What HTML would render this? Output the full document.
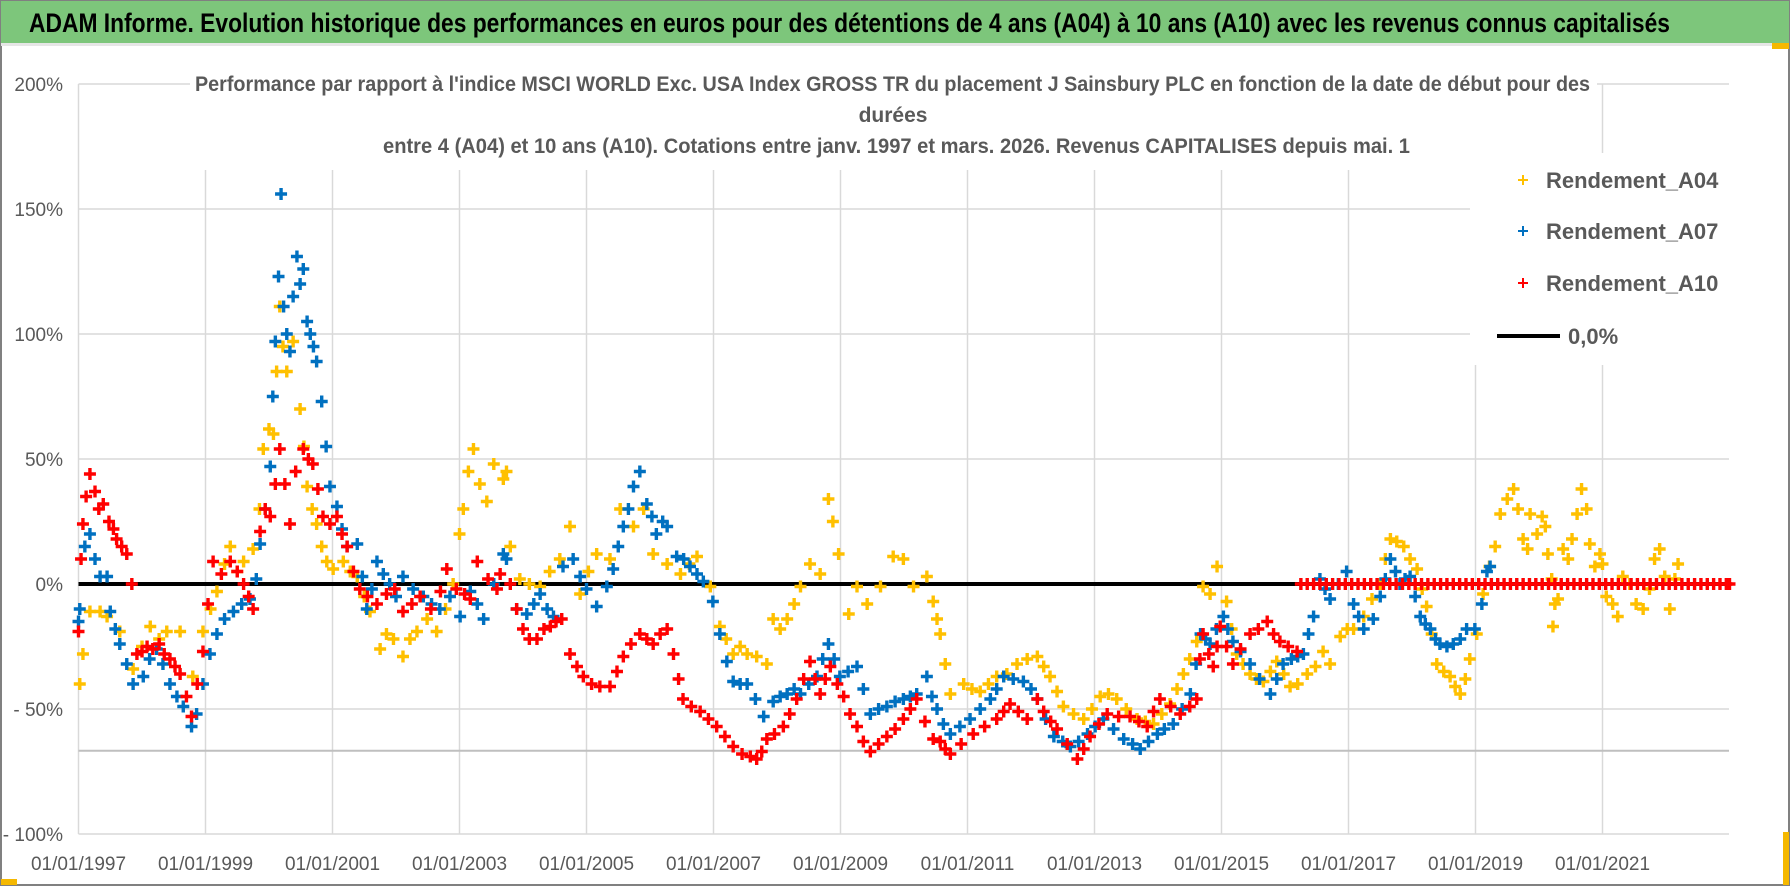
<!DOCTYPE html>
<html><head><meta charset="utf-8">
<style>
html,body{margin:0;padding:0;background:#fff;}
svg{display:block;font-family:"Liberation Sans",sans-serif;}
</style></head>
<body>
<svg id="chart" width="1790" height="886" viewBox="0 0 1790 886" xmlns="http://www.w3.org/2000/svg">
  <rect x="1" y="1" width="1788" height="884" fill="#fff" stroke="#808080" stroke-width="2"/>
  <rect x="1" y="1" width="1788" height="42" fill="#7dc67b"/>
  <rect x="1" y="43" width="1788" height="3" fill="#e6e6e6"/>
  <text x="29" y="32" font-size="27" font-weight="bold" fill="#000" textLength="1641" lengthAdjust="spacingAndGlyphs">ADAM Informe. Evolution historique des performances en euros pour des détentions de 4 ans (A04) à 10 ans (A10) avec les revenus connus capitalisés</text>
  <rect x="1" y="879" width="16" height="6" fill="#f5b800"/>
  <rect x="1783" y="832" width="6" height="53" fill="#f5b800"/>
  <rect x="1772" y="43" width="17" height="6" fill="#f5b800"/>
  <g id="grid"></g>
  <g id="axes"></g>
  <line x1="78.5" y1="584" x2="1729" y2="584" stroke="#000" stroke-width="4"/>
  <g id="marks"></g>
  <rect x="190" y="68" width="1407" height="102" fill="#fff"/>
  <g fill="#595959" font-weight="bold" font-size="21">
    <text x="195" y="91" textLength="1395" lengthAdjust="spacingAndGlyphs">Performance par rapport à l'indice MSCI WORLD Exc. USA Index GROSS TR  du placement J Sainsbury PLC en fonction de la date de début pour des</text>
    <text x="893" y="122" text-anchor="middle">durées</text>
    <text x="383" y="153" textLength="1027" lengthAdjust="spacingAndGlyphs">entre 4 (A04) et 10 ans (A10). Cotations entre janv. 1997 et mars. 2026. Revenus CAPITALISES depuis mai. 1</text>
  </g>
  <g>
    <rect x="1470" y="153" width="275" height="212" fill="#fff"/>
    <g>
      <path d="M1518 180h10M1523 175v10" stroke="#ffc000" stroke-width="2"/>
      <text x="1546" y="188" font-size="22" font-weight="bold" fill="#595959">Rendement_A04</text>
    </g>
    <g>
      <path d="M1518 231h10M1523 226v10" stroke="#0070c0" stroke-width="2"/>
      <text x="1546" y="239" font-size="22" font-weight="bold" fill="#595959">Rendement_A07</text>
    </g>
    <g>
      <path d="M1518 283h10M1523 278v10" stroke="#ff0000" stroke-width="2"/>
      <text x="1546" y="291" font-size="22" font-weight="bold" fill="#595959">Rendement_A10</text>
    </g>
    <g>
      <line x1="1497" y1="336" x2="1560" y2="336" stroke="#000" stroke-width="4"/>
      <text x="1568" y="344" font-size="22" font-weight="bold" fill="#595959">0,0%</text>
    </g>
  </g>
</svg>
<script>
const yTickValues = [200, 150, 100, 50, 0, -50, -100];
const yTickLabels = ["200%", "150%", "100%", "50%", "0%", "- 50%", "- 100%"];
const xTickYears = [1997, 1999, 2001, 2003, 2005, 2007, 2009, 2011, 2013, 2015, 2017, 2019, 2021];
const xTickLabels = ["01/01/1997","01/01/1999","01/01/2001","01/01/2003","01/01/2005","01/01/2007","01/01/2009","01/01/2011","01/01/2013","01/01/2015","01/01/2017","01/01/2019","01/01/2021"];

const a04Dates = [1997.02,1997.07,1997.18,1997.34,1997.45,1997.65,1997.86,1998.0,1998.13,1998.27,1998.39,1998.6,1998.8,1998.96,1999.08,1999.18,1999.3,1999.39,1999.5,1999.6,1999.75,1999.85,1999.91,2000.0,2000.07,2000.12,2000.17,2000.22,2000.28,2000.38,2000.49,2000.55,2000.6,2000.68,2000.75,2000.83,2000.91,2001.01,2001.17,2001.28,2001.39,2001.5,2001.59,2001.75,2001.85,2001.96,2002.11,2002.22,2002.33,2002.49,2002.64,2002.78,2002.9,2003.0,2003.06,2003.14,2003.22,2003.32,2003.43,2003.54,2003.69,2003.74,2003.8,2003.95,2004.1,2004.27,2004.42,2004.58,2004.74,2004.9,2005.03,2005.16,2005.37,2005.53,2005.74,2005.9,2006.05,2006.27,2006.48,2006.62,2006.74,2006.95,2007.1,2007.2,2007.31,2007.42,2007.53,2007.68,2007.84,2007.94,2008.05,2008.16,2008.27,2008.37,2008.52,2008.68,2008.81,2008.88,2008.97,2009.13,2009.26,2009.42,2009.63,2009.83,2009.99,2010.15,2010.36,2010.46,2010.52,2010.57,2010.65,2010.73,2010.94,2011.07,2011.2,2011.33,2011.46,2011.62,2011.78,2011.94,2012.1,2012.2,2012.3,2012.41,2012.51,2012.67,2012.83,2012.96,2013.09,2013.22,2013.35,2013.5,2013.67,2013.8,2013.93,2014.06,2014.19,2014.3,2014.4,2014.5,2014.61,2014.71,2014.82,2014.93,2015.08,2015.16,2015.24,2015.34,2015.45,2015.55,2015.66,2015.77,2015.87,2015.98,2016.08,2016.2,2016.35,2016.48,2016.6,2016.71,2016.87,2016.98,2017.08,2017.24,2017.37,2017.5,2017.58,2017.66,2017.76,2017.87,2017.97,2018.08,2018.16,2018.23,2018.31,2018.39,2018.5,2018.6,2018.68,2018.76,2018.84,2018.91,2019.02,2019.12,2019.22,2019.31,2019.39,2019.5,2019.6,2019.67,2019.75,2019.82,2019.86,2019.97,2020.05,2020.1,2020.14,2020.2,2020.22,2020.25,2020.3,2020.38,2020.46,2020.52,2020.6,2020.67,2020.75,2020.8,2020.88,2020.96,2021.0,2021.06,2021.16,2021.24,2021.32,2021.43,2021.53,2021.64,2021.74,2021.82,2021.9,2021.98,2022.06,2022.14,2022.19];
const a04Values = [-40,-28,-11,-11,-13,-19,-34,-25,-17,-22,-19,-19,-37,-19,-10,-3,8,15,5,9,14,30,54,62,60,85,111,95,85,97,70,55,39,30,24,15,9,6,9,5,3,-5,-11,-26,-20,-22,-29,-22,-19,-14,-19,-10,0,20,30,45,54,40,33,48,42,45,15,2,0,-1,5,10,23,-4,5,12,10,30,23,30,12,8,4,8,11,-1,-17,-22,-28,-25,-28,-29,-32,-14,-18,-14,-8,-1,8,4,34,25,12,-12,-1,-8,-1,11,10,-1,3,-7,-14,-20,-32,-44,-40,-42,-43,-40,-37,-36,-32,-30,-29,-33,-37,-43,-49,-52,-54,-50,-45,-44,-46,-50,-54,-55,-56,-52,-48,-42,-36,-30,-23,-1,-4,7,-7,-18,-28,-32,-36,-38,-39,-35,-31,-36,-41,-40,-36,-33,-27,-32,-21,-18,-18,-13,-6,0,10,18,17,15,10,6,-2,-9,-20,-32,-35,-37,-41,-44,-38,-30,-20,-4,7,15,28,34,38,30,18,14,28,20,27,23,12,2,-17,-8,-6,14,10,18,28,38,30,16,7,12,8,-5,-8,-13,3,0,-8,-10,-2,10,14,3,-10,2,8];

const a07Dates = [1997.0,1997.02,1997.1,1997.18,1997.26,1997.34,1997.45,1997.5,1997.58,1997.65,1997.76,1997.86,1998.02,1998.12,1998.23,1998.33,1998.44,1998.55,1998.65,1998.78,1998.86,1998.96,1999.07,1999.18,1999.3,1999.44,1999.57,1999.7,1999.8,1999.86,1999.94,2000.02,2000.06,2000.1,2000.15,2000.19,2000.23,2000.28,2000.33,2000.38,2000.44,2000.49,2000.54,2000.6,2000.65,2000.7,2000.75,2000.83,2000.9,2000.96,2001.07,2001.15,2001.23,2001.39,2001.47,2001.54,2001.62,2001.7,2001.8,2001.9,2002.0,2002.11,2002.27,2002.43,2002.56,2002.69,2002.85,2003.01,2003.17,2003.28,2003.38,2003.54,2003.69,2003.74,2003.9,2004.06,2004.17,2004.27,2004.38,2004.48,2004.63,2004.79,2004.9,2005.0,2005.16,2005.32,2005.42,2005.5,2005.58,2005.66,2005.74,2005.84,2005.95,2006.03,2006.1,2006.2,2006.27,2006.42,2006.53,2006.63,2006.74,2006.84,2006.99,2007.1,2007.21,2007.31,2007.42,2007.53,2007.66,2007.79,2007.94,2008.05,2008.16,2008.27,2008.37,2008.5,2008.63,2008.72,2008.81,2008.9,2008.99,2009.12,2009.26,2009.36,2009.47,2009.6,2009.73,2009.86,2009.99,2010.1,2010.2,2010.36,2010.44,2010.52,2010.62,2010.73,2010.88,2011.04,2011.2,2011.36,2011.46,2011.57,2011.72,2011.88,2012.0,2012.1,2012.23,2012.36,2012.5,2012.62,2012.75,2012.89,2013.01,2013.14,2013.3,2013.46,2013.6,2013.72,2013.85,2013.99,2014.1,2014.24,2014.38,2014.51,2014.6,2014.67,2014.75,2014.82,2014.92,2015.03,2015.1,2015.18,2015.3,2015.45,2015.6,2015.77,2015.87,2015.97,2016.1,2016.2,2016.29,2016.37,2016.45,2016.55,2016.63,2016.71,2016.84,2016.97,2017.08,2017.16,2017.24,2017.39,2017.5,2017.58,2017.66,2017.74,2017.81,2017.89,2017.97,2018.05,2018.13,2018.21,2018.29,2018.37,2018.44,2018.55,2018.65,2018.76,2018.86,2018.99,2019.1,2019.18,2019.23];
const a07Values = [-15,-10,15,20,10,3,3,-11,-18,-24,-32,-40,-37,-30,-26,-32,-40,-45,-49,-57,-52,-40,-28,-20,-14,-11,-8,-6,2,16,30,47,75,97,123,156,111,100,93,115,131,120,126,105,100,95,89,73,55,39,31,22,15,16,3,-10,-2,9,4,0,-5,3,-2,-5,-8,-10,-5,-13,-3,-8,-14,0,12,10,-10,-12,-8,-4,-10,-13,7,10,3,-2,-9,-1,6,15,23,30,39,45,32,27,20,25,23,11,10,7,4,1,-7,-20,-31,-39,-40,-40,-46,-53,-47,-45,-44,-42,-44,-40,-37,-30,-24,-30,-37,-35,-33,-42,-52,-50,-49,-47,-46,-45,-44,-37,-45,-50,-56,-60,-57,-54,-50,-46,-42,-37,-38,-39,-42,-46,-54,-61,-63,-65,-63,-60,-57,-54,-58,-62,-64,-66,-63,-60,-58,-56,-50,-44,-32,-20,-22,-24,-18,-13,-18,-23,-27,-32,-38,-44,-38,-32,-30,-29,-28,-20,-13,2,-2,-6,0,5,-8,-13,-18,-14,-5,2,10,5,0,2,3,-5,-13,-16,-18,-22,-24,-25,-24,-22,-18,-18,-8,5,7];

const a10Dates = [1997.0,1997.04,1997.07,1997.12,1997.18,1997.26,1997.32,1997.39,1997.48,1997.55,1997.6,1997.68,1997.76,1997.84,1997.92,1998.0,1998.08,1998.17,1998.27,1998.35,1998.44,1998.52,1998.6,1998.7,1998.78,1998.87,1998.96,1999.04,1999.12,1999.25,1999.39,1999.5,1999.6,1999.68,1999.75,1999.86,1999.94,2000.02,2000.1,2000.17,2000.25,2000.33,2000.42,2000.54,2000.62,2000.69,2000.77,2000.85,2000.96,2001.07,2001.15,2001.23,2001.33,2001.43,2001.55,2001.7,2001.85,2001.98,2002.11,2002.25,2002.38,2002.55,2002.7,2002.8,2002.95,2003.08,2003.17,2003.28,2003.45,2003.59,2003.64,2003.8,2003.9,2004.0,2004.1,2004.22,2004.33,2004.43,2004.52,2004.61,2004.74,2004.85,2004.95,2005.08,2005.21,2005.37,2005.48,2005.58,2005.7,2005.84,2005.95,2006.05,2006.16,2006.27,2006.37,2006.45,2006.52,2006.65,2006.79,2006.92,2007.05,2007.18,2007.31,2007.45,2007.58,2007.68,2007.76,2007.84,2007.96,2008.1,2008.2,2008.31,2008.42,2008.52,2008.6,2008.68,2008.76,2008.84,2008.95,2009.05,2009.15,2009.26,2009.36,2009.47,2009.6,2009.73,2009.86,2009.99,2010.1,2010.2,2010.33,2010.46,2010.57,2010.65,2010.73,2010.9,2011.09,2011.27,2011.46,2011.57,2011.67,2011.8,2011.94,2012.1,2012.2,2012.31,2012.41,2012.57,2012.73,2012.83,2012.93,2013.07,2013.2,2013.38,2013.56,2013.7,2013.83,2013.93,2014.03,2014.2,2014.35,2014.5,2014.61,2014.66,2014.71,2014.8,2014.87,2014.93,2014.98,2015.08,2015.18,2015.3,2015.45,2015.58,2015.72,2015.82,2015.92,2016.05,2016.19,
2016.25,2016.35,2016.45,2016.55,2016.65,2016.75,2016.85,2016.95,2017.05,2017.15,2017.25,2017.35,2017.45,2017.55,2017.65,2017.75,2017.85,2017.95,2018.05,2018.15,2018.25,2018.35,2018.45,2018.55,2018.65,2018.75,2018.85,2018.95,2019.05,2019.15,2019.25,2019.35,2019.45,2019.55,2019.65,2019.75,2019.85,2019.95,2020.05,2020.15,2020.25,2020.35,2020.45,2020.55,2020.65,2020.75,2020.85,2020.95,2021.05,2021.15,2021.25,2021.35,2021.45,2021.55,2021.65,2021.75,2021.85,2021.95,2022.05,2022.15,2022.25,2022.35,2022.45,2022.55,2022.65,2022.75,2022.85,2022.95,2023.0];
const a10Values = [-19,10,24,35,44,37,30,32,25,22,18,15,12,0,-28,-27,-25,-26,-24,-28,-30,-33,-36,-45,-53,-40,-27,-8,9,4,9,5,0,-5,-10,21,30,27,40,54,40,24,45,54,50,48,38,27,24,27,20,15,5,-2,-5,-8,-4,-2,-11,-8,-5,-10,-3,6,-2,-4,-6,9,2,-2,4,0,-10,-18,-22,-22,-18,-17,-15,-14,-28,-33,-37,-40,-41,-41,-35,-29,-24,-20,-22,-24,-20,-18,-28,-38,-46,-49,-51,-54,-57,-61,-65,-68,-69,-70,-67,-62,-60,-57,-52,-46,-38,-31,-38,-44,-38,-33,-40,-45,-52,-57,-63,-67,-64,-61,-58,-54,-50,-46,-55,-62,-63,-66,-68,-64,-60,-57,-54,-51,-48,-51,-54,-46,-51,-55,-58,-64,-70,-66,-61,-56,-52,-53,-53,-55,-57,-51,-46,-49,-52,-49,-46,-30,-20,-28,-33,-25,-17,-25,-32,-26,-20,-18,-15,-20,-23,-25,-27,
0,0,0,0,0,0,0,0,0,0,0,0,0,0,0,0,0,0,0,0,0,0,0,0,0,0,0,0,0,0,0,0,0,0,0,0,0,0,0,0,0,0,0,0,0,0,0,0,0,0,0,0,0,0,0,0,0,0,0,0,0,0,0,0,0,0,0,0,0];

const NS = "http://www.w3.org/2000/svg";
const X0 = 78.5, X1 = 1729, Y_TOP = 84, Y_BOT = 834;
function xScale(year){ return X0 + (year - 1997) * 63.5; }
function yScale(v){ return 584 - v * 2.5; }
function mk(tag, attrs, parent){
  const el = document.createElementNS(NS, tag);
  for (const k in attrs) el.setAttribute(k, attrs[k]);
  parent.appendChild(el);
  return el;
}
const grid = document.getElementById('grid');
const axes = document.getElementById('axes');
const marks = document.getElementById('marks');

yTickValues.forEach((v, i) => {
  const y = yScale(v);
  const gl = mk('line', {x1: X0, y1: y, x2: X1, y2: y, stroke: '#d9d9d9', 'stroke-width': 1.5}, grid);
  
  
  const t = mk('text', {x: 63, y: y + 7, 'text-anchor': 'end', 'font-size': 19, fill: '#595959'}, axes);
  t.textContent = yTickLabels[i];
  
  
});
xTickYears.forEach((yr, i) => {
  const x = xScale(yr);
  const gl = mk('line', {x1: x, y1: Y_TOP, x2: x, y2: Y_BOT, stroke: '#d9d9d9', 'stroke-width': 1.5}, grid);
  
  
  const t = mk('text', {x: x, y: 870, 'text-anchor': 'middle', 'font-size': 19, fill: '#595959'}, axes);
  t.textContent = xTickLabels[i];
  
  
});
const catAxis = mk('line', {x1: X0, y1: yScale(-66.7), x2: X1, y2: yScale(-66.7), stroke: '#bfbfbf', 'stroke-width': 2}, grid);



function drawSeries(dates, values, color, name){
  const g = mk('g', {stroke: color, 'stroke-width': 3.4, fill: 'none'}, marks);
  
  
  for (let i = 0; i < dates.length; i++){
    const x = xScale(dates[i]), y = yScale(values[i]);
    const p = mk('path', {d: `M${x-6} ${y}h12M${x} ${y-6}v12`}, g);
    
    
  }
}
drawSeries(a04Dates, a04Values, '#ffc000', 'rendement-a04');
drawSeries(a07Dates, a07Values, '#0070c0', 'rendement-a07');
drawSeries(a10Dates, a10Values, '#ff0000', 'rendement-a10');
</script>
</body></html>
